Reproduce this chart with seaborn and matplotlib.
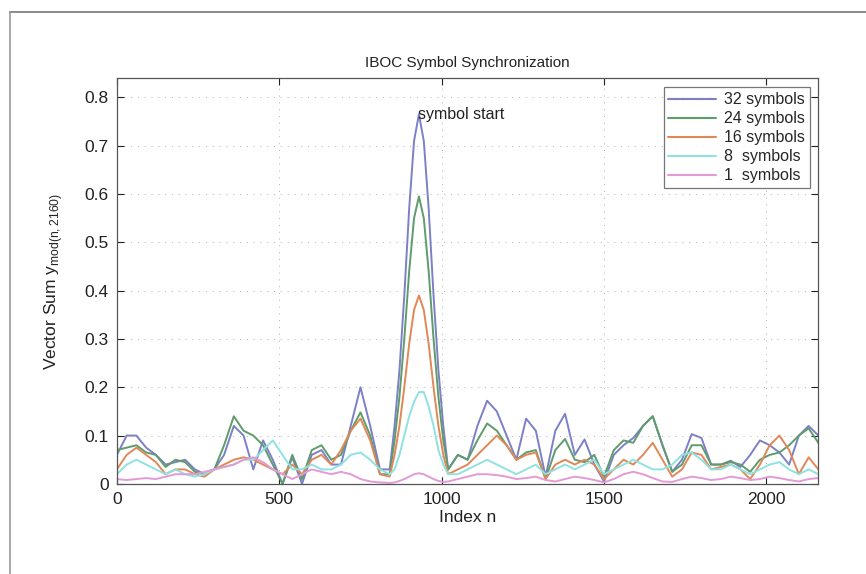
import numpy as np
import pandas as pd
import matplotlib
matplotlib.use("Agg")
import matplotlib.pyplot as plt
import seaborn as sns
from matplotlib.lines import Line2D

# ---- data ----
n_index = [0, 30, 60, 90, 120, 150, 180, 210, 240, 270, 300, 330, 360, 390, 420, 450, 480, 510,
           540, 570, 600, 630, 660, 690, 720, 750, 780, 810, 840,
           855, 870, 885, 900, 915, 930, 945, 960, 975, 990, 1005, 1020,
           1050, 1080, 1110, 1140, 1170, 1200, 1230, 1260, 1290, 1320, 1350, 1380, 1410, 1440,
           1470, 1500, 1530, 1560, 1590, 1620, 1650, 1680, 1710, 1740, 1770, 1800, 1830, 1860,
           1890, 1920, 1950, 1980, 2010, 2040, 2070, 2100, 2130, 2160]

sym32 = [0.06, 0.10, 0.10, 0.075, 0.06, 0.04, 0.045, 0.05, 0.03, 0.02, 0.03, 0.06, 0.12, 0.10, 0.03, 0.09, 0.05, 0.0,
         0.055, 0.0, 0.06, 0.07, 0.04, 0.04, 0.12, 0.20, 0.12, 0.03, 0.03,
         0.12, 0.235, 0.39, 0.57, 0.71, 0.765, 0.71, 0.57, 0.39, 0.235, 0.12, 0.03,
         0.06, 0.05, 0.12, 0.172, 0.15, 0.10, 0.05, 0.135, 0.11, 0.015, 0.11, 0.145, 0.06, 0.092,
         0.04, 0.005, 0.06, 0.08, 0.095, 0.12, 0.14, 0.08, 0.025, 0.05, 0.103, 0.095, 0.04, 0.04,
         0.048, 0.035, 0.06, 0.09, 0.08, 0.065, 0.04, 0.10, 0.12, 0.10]

sym24 = [0.07, 0.075, 0.08, 0.065, 0.06, 0.035, 0.05, 0.045, 0.025, 0.02, 0.03, 0.08, 0.14, 0.11, 0.10, 0.08, 0.04, 0.0,
         0.06, 0.01, 0.07, 0.08, 0.05, 0.06, 0.11, 0.148, 0.10, 0.02, 0.02,
         0.09, 0.18, 0.30, 0.44, 0.55, 0.595, 0.55, 0.44, 0.30, 0.18, 0.09, 0.03,
         0.06, 0.05, 0.09, 0.125, 0.11, 0.08, 0.05, 0.065, 0.07, 0.01, 0.07, 0.093, 0.05, 0.045,
         0.06, 0.015, 0.07, 0.09, 0.085, 0.12, 0.14, 0.08, 0.025, 0.04, 0.08, 0.08, 0.04, 0.04,
         0.045, 0.04, 0.025, 0.05, 0.06, 0.065, 0.08, 0.10, 0.115, 0.085]

sym16 = [0.03, 0.06, 0.075, 0.06, 0.045, 0.02, 0.03, 0.03, 0.02, 0.015, 0.03, 0.04, 0.05, 0.055, 0.05, 0.04, 0.03, 0.02,
         0.04, 0.02, 0.05, 0.06, 0.04, 0.07, 0.11, 0.135, 0.09, 0.02, 0.015,
         0.06, 0.12, 0.20, 0.29, 0.36, 0.39, 0.36, 0.29, 0.20, 0.12, 0.06, 0.02,
         0.03, 0.04, 0.06, 0.08, 0.10, 0.08, 0.05, 0.06, 0.065, 0.01, 0.04, 0.05, 0.04, 0.05,
         0.04, 0.01, 0.03, 0.05, 0.04, 0.06, 0.085, 0.05, 0.015, 0.03, 0.065, 0.06, 0.03, 0.035,
         0.04, 0.03, 0.01, 0.04, 0.08, 0.10, 0.07, 0.02, 0.055, 0.03]

sym8 = [0.02, 0.04, 0.05, 0.04, 0.03, 0.02, 0.03, 0.02, 0.015, 0.02, 0.03, 0.035, 0.04, 0.05, 0.05, 0.07, 0.09, 0.06,
        0.03, 0.03, 0.04, 0.03, 0.03, 0.04, 0.06, 0.065, 0.05, 0.03, 0.02,
        0.03, 0.06, 0.10, 0.14, 0.17, 0.19, 0.19, 0.16, 0.12, 0.07, 0.04, 0.02,
        0.02, 0.03, 0.04, 0.05, 0.04, 0.03, 0.02, 0.03, 0.04, 0.02, 0.03, 0.04, 0.03, 0.04,
        0.05, 0.02, 0.03, 0.04, 0.05, 0.04, 0.03, 0.03, 0.04, 0.06, 0.065, 0.05, 0.03, 0.03,
        0.04, 0.03, 0.02, 0.03, 0.04, 0.045, 0.03, 0.02, 0.03, 0.02]

sym1 = [0.01, 0.008, 0.01, 0.012, 0.01, 0.015, 0.02, 0.02, 0.02, 0.025, 0.03, 0.035, 0.04, 0.05, 0.055, 0.045, 0.03, 0.02,
        0.01, 0.02, 0.03, 0.025, 0.02, 0.025, 0.02, 0.01, 0.005, 0.003, 0.002,
        0.003, 0.006, 0.01, 0.015, 0.02, 0.022, 0.02, 0.015, 0.01, 0.006, 0.004, 0.005,
        0.01, 0.015, 0.02, 0.02, 0.018, 0.015, 0.01, 0.012, 0.015, 0.008, 0.005, 0.01, 0.015, 0.012,
        0.008, 0.003, 0.01, 0.02, 0.025, 0.02, 0.012, 0.005, 0.004, 0.01, 0.015, 0.012, 0.008, 0.01,
        0.015, 0.012, 0.008, 0.01, 0.015, 0.012, 0.008, 0.005, 0.01, 0.012]

series_labels = ["32 symbols", "24 symbols", "16 symbols", "8  symbols", "1  symbols"]
series_values = [sym32, sym24, sym16, sym8, sym1]
series_colors = ["#7c80c6", "#5e9c6c", "#e08858", "#8fe2e2", "#e39ad6"]

x_ticks = [0, 500, 1000, 1500, 2000]
y_ticks = [0, 0.1, 0.2, 0.3, 0.4, 0.5, 0.6, 0.7, 0.8]

df = pd.concat([pd.DataFrame({"n": n_index, "v": vals, "series": lab})
                for lab, vals in zip(series_labels, series_values)], ignore_index=True)

# ---- figure ----
sns.set_theme(style="white")
plt.rcParams["font.family"] = ["Liberation Sans", "DejaVu Sans"]

fig = plt.figure(figsize=(8.66, 5.74), dpi=100)
ax = fig.add_axes([0.135, 0.157, 0.81, 0.707])

sns.lineplot(data=df, x="n", y="v", hue="series", hue_order=series_labels,
             palette=dict(zip(series_labels, series_colors)), linewidth=1.4,
             ax=ax, legend=False, sort=False, estimator=None)
for line in ax.get_lines():
    line.set_solid_joinstyle("round")

ax.set_xlim(0, 2160)
ax.set_ylim(0, 0.84)
ax.set_xticks(x_ticks)
ax.set_xticklabels([str(t) for t in x_ticks])
ax.set_yticks(y_ticks)
ax.set_yticklabels(["0" if t == 0 else f"{t:.1f}" for t in y_ticks])
ax.tick_params(direction="in", length=5, width=0.8, labelsize=12.5, colors="#222222",
               top=True, right=True, bottom=True, left=True, pad=6)
ax.grid(True, linestyle=(0, (1, 6)), color="#b0b0b0", linewidth=0.7)
for s in ax.spines.values():
    s.set_color("#555555")
    s.set_linewidth(0.9)

ax.set_title("IBOC Symbol Synchronization", fontsize=11, pad=8, color="#222222")
ax.set_xlabel("Index n", fontsize=12.5, labelpad=2, color="#222222")
ax.set_ylabel(r"Vector Sum y$_{\mathregular{mod(n,2160)}}$", fontsize=12.5, labelpad=14, color="#222222")

ax.text(926, 0.765, "symbol start", fontsize=11.5, va="center", ha="left", color="#222222")

handles = [Line2D([0], [0], color=c, linewidth=1.5) for c in series_colors]
leg = ax.legend(handles, series_labels, loc="upper right", bbox_to_anchor=(0.988, 0.977),
                fontsize=11.5, frameon=True, fancybox=False, borderaxespad=0,
                handlelength=3.0, handletextpad=0.5, labelspacing=0.25, borderpad=0.3)
leg.get_frame().set_edgecolor("#555555")
leg.get_frame().set_linewidth(0.9)

# outer frame of the scanned figure
fig.add_artist(Line2D([10 / 866, 1.0], [1 - 12 / 574, 1 - 12 / 574], transform=fig.transFigure,
                      color="#777777", linewidth=1.2))
fig.add_artist(Line2D([10 / 866, 10 / 866], [1 - 12 / 574, 0.0], transform=fig.transFigure,
                      color="#999999", linewidth=1.2))

fig.savefig("out.png", dpi=100, facecolor="white")
